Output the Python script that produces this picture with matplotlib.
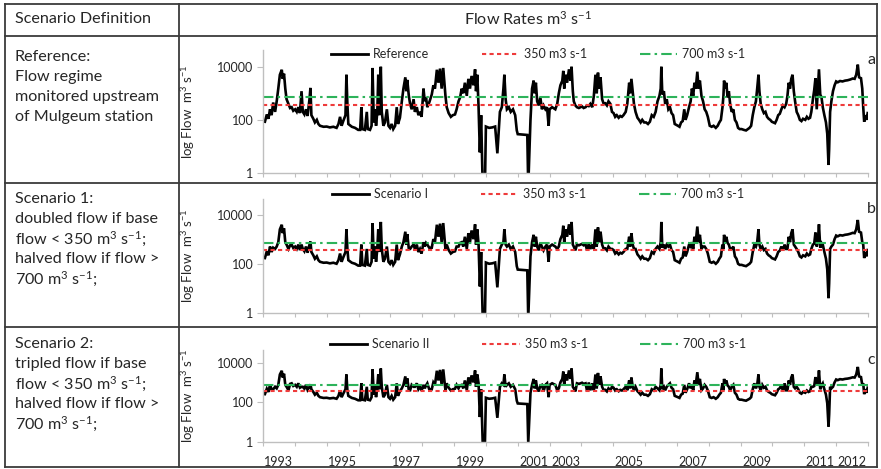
import numpy as np
import matplotlib
matplotlib.use("Agg")
import matplotlib.pyplot as plt
from matplotlib.lines import Line2D
from matplotlib.ticker import FixedLocator, NullFormatter, FixedFormatter, NullLocator

plt.rcParams["font.family"] = ["Lato", "DejaVu Sans"]
plt.rcParams["mathtext.fontset"] = "custom"
plt.rcParams["mathtext.rm"] = "Lato"

# ---------------------------------------------------------------------------
# Observed flow upstream of Mulgeum station (m3 s-1), decimal calendar years
# (no record for 2002)
# ---------------------------------------------------------------------------
flow_date = [
    1993.01, 1993.06, 1993.12, 1993.17, 1993.22, 1993.27, 1993.32, 1993.38, 1993.43, 1993.48,
    1993.53, 1993.59, 1993.62, 1993.66, 1993.70, 1993.74, 1993.80, 1993.85, 1993.90, 1993.95,
    1994.01, 1994.06, 1994.11, 1994.16, 1994.21, 1994.25, 1994.30, 1994.35, 1994.40, 1994.46,
    1994.49, 1994.52, 1994.58, 1994.63, 1994.69, 1994.74, 1994.79, 1994.90,
    1995.00, 1995.10, 1995.21, 1995.31, 1995.37, 1995.42, 1995.47, 1995.52, 1995.59, 1995.62,
    1995.65, 1995.68, 1995.79, 1995.89, 1995.99,
    1996.05, 1996.09, 1996.12, 1996.20, 1996.26, 1996.29, 1996.36, 1996.41, 1996.44, 1996.48,
    1996.52, 1996.55, 1996.59, 1996.62, 1996.65, 1996.70, 1996.73, 1996.78, 1996.83, 1996.89,
    1996.94, 1996.99,
    1997.04, 1997.09, 1997.15, 1997.20, 1997.24, 1997.30, 1997.36, 1997.41, 1997.47, 1997.50,
    1997.53, 1997.58, 1997.62, 1997.67, 1997.73, 1997.77, 1997.83, 1997.88, 1997.93, 1997.98,
    1998.04, 1998.08, 1998.12, 1998.16, 1998.22, 1998.30, 1998.35, 1998.40, 1998.46, 1998.51,
    1998.56, 1998.61, 1998.66, 1998.73, 1998.77, 1998.83, 1998.90, 1998.96,
    1999.03, 1999.08, 1999.14, 1999.19, 1999.24, 1999.29, 1999.34, 1999.40, 1999.45, 1999.50,
    1999.55, 1999.61, 1999.66, 1999.69, 1999.73, 1999.77, 1999.81, 1999.85, 1999.90, 1999.97,
    2000.00, 2000.10, 2000.20, 2000.29, 2000.36, 2000.44, 2000.50, 2000.55, 2000.58, 2000.62,
    2000.66, 2000.72, 2000.78, 2000.85, 2000.92, 2000.97,
    2001.00, 2001.30, 2001.33, 2001.40, 2001.45, 2001.50, 2001.53, 2001.57, 2001.61, 2001.66,
    2001.71, 2001.76, 2001.81, 2001.87, 2001.92, 2001.97,
    2003.00, 2003.08, 2003.18, 2003.24, 2003.29, 2003.34, 2003.40, 2003.43, 2003.46, 2003.50,
    2003.55, 2003.61, 2003.66, 2003.69, 2003.73, 2003.76, 2003.81, 2003.86, 2003.92, 2003.97,
    2004.02, 2004.07, 2004.13, 2004.18, 2004.23, 2004.28, 2004.34, 2004.39, 2004.44, 2004.48,
    2004.52, 2004.56, 2004.60, 2004.65, 2004.70, 2004.75, 2004.80, 2004.85, 2004.91, 2004.96,
    2005.01, 2005.06, 2005.11, 2005.17, 2005.22, 2005.27, 2005.32, 2005.39, 2005.44, 2005.50,
    2005.53, 2005.57, 2005.61, 2005.65, 2005.70, 2005.76, 2005.81, 2005.86, 2005.91, 2005.97,
    2006.03, 2006.09, 2006.15, 2006.21, 2006.27, 2006.33, 2006.39, 2006.45, 2006.49, 2006.51,
    2006.54, 2006.59, 2006.63, 2006.68, 2006.73, 2006.78, 2006.83, 2006.88, 2006.93, 2006.98,
    2007.03, 2007.08, 2007.13, 2007.18, 2007.23, 2007.27, 2007.32, 2007.38, 2007.43, 2007.47,
    2007.51, 2007.55, 2007.59, 2007.64, 2007.68, 2007.72, 2007.77, 2007.82, 2007.87, 2007.92,
    2007.97,
    2008.03, 2008.09, 2008.15, 2008.22, 2008.28, 2008.33, 2008.38, 2008.43, 2008.46, 2008.48,
    2008.52, 2008.55, 2008.59, 2008.63, 2008.67, 2008.72, 2008.77, 2008.82, 2008.87, 2008.92,
    2008.97,
    2009.03, 2009.10, 2009.17, 2009.23, 2009.28, 2009.33, 2009.38, 2009.43, 2009.48, 2009.52,
    2009.56, 2009.59, 2009.63, 2009.68, 2009.73, 2009.78, 2009.83, 2009.88, 2009.93, 2009.98,
    2010.03, 2010.08, 2010.13, 2010.18, 2010.23, 2010.28, 2010.33, 2010.38, 2010.43, 2010.47,
    2010.51, 2010.55, 2010.59, 2010.63, 2010.67, 2010.71, 2010.76, 2010.81, 2010.86, 2010.91,
    2010.96,
    2011.03, 2011.08, 2011.13, 2011.18, 2011.22, 2011.27, 2011.31, 2011.35, 2011.39, 2011.43,
    2011.46, 2011.50, 2011.54, 2011.58, 2011.63, 2011.68, 2011.72, 2011.76, 2011.78, 2011.81,
    2011.85, 2011.90, 2011.95,
    2012.00, 2012.05, 2012.12, 2012.20, 2012.28, 2012.36, 2012.44, 2012.52, 2012.58, 2012.63,
    2012.68, 2012.72, 2012.78, 2012.82, 2012.85, 2012.88, 2012.92, 2012.96, 2012.99,
]

flow_reference = [
    87, 85, 160, 110, 250, 150, 450, 200, 500, 1500,
    5000, 7700, 3500, 5500, 1500, 600, 400, 280, 300, 220,
    250, 200, 300, 180, 1200, 200, 160, 250, 140, 600,
    1600, 150, 110, 80, 100, 70, 60, 55,
    56, 52, 55, 50, 70, 130, 60, 90, 150, 5000,
    400, 70, 55, 50, 42,
    42, 300, 45, 42, 200, 45, 42, 60, 9000, 80,
    250, 60, 200, 5000, 150, 10000, 200, 60, 80, 250,
    60, 50,
    70, 45, 60, 300, 70, 120, 500, 1500, 4000, 1200,
    3200, 800, 400, 250, 600, 200, 300, 150, 200, 130,
    1500, 500, 700, 300, 450, 900, 2000, 1500, 7700, 2500,
    8500, 1500, 9000, 800, 300, 180, 130, 150,
    160, 250, 500, 700, 1500, 1000, 2500, 800, 3500, 1500,
    4500, 2000, 8000, 1200, 5000, 300, 6, 150, 0.3, 0.3,
    56, 50, 52, 56, 5.5, 200, 300, 1500, 5000, 600,
    250, 300, 200, 250, 150, 40,
    29, 27, 0.3, 100, 1500, 3000, 1000, 2500, 500, 350,
    700, 250, 350, 250, 300, 60,
    250, 300, 250, 400, 1000, 2000, 3000, 7000, 1500, 5000,
    2500, 8000, 3000, 10000, 1200, 500, 350, 300, 280, 300,
    320, 280, 300, 350, 330, 400, 300, 800, 5000, 1000,
    6000, 1500, 4000, 600, 400, 420, 350, 500, 400, 200,
    180, 130, 150, 120, 140, 130, 150, 200, 400, 2500,
    1000, 3500, 1200, 400, 200, 120, 100, 80, 100, 80,
    80, 70, 85, 150, 130, 200, 500, 800, 1500, 10000,
    900, 1200, 400, 600, 250, 300, 180, 150, 70, 65,
    60, 55, 80, 90, 250, 100, 150, 300, 500, 1500,
    800, 2500, 1500, 6500, 1500, 3000, 800, 500, 250, 200,
    130,
    60, 55, 60, 50, 60, 80, 100, 300, 800, 3000,
    1500, 2500, 700, 1200, 400, 200, 250, 100, 80, 50,
    45,
    45, 42, 40, 45, 50, 60, 150, 300, 500, 1500,
    5000, 1200, 400, 250, 180, 200, 130, 110, 100, 85,
    80, 75, 100, 150, 170, 250, 350, 300, 400, 800,
    2500, 1500, 3500, 5000, 1200, 500, 200, 150, 100, 90,
    110,
    100, 130, 110, 120, 200, 600, 1300, 3700, 250, 2000,
    8000, 900, 700, 300, 150, 80, 30, 2, 8, 200,
    500, 1200, 2000,
    2800, 2600, 2900, 2800, 3000, 3100, 3300, 3600, 3500, 5000,
    12000, 4000, 3700, 1500, 300, 85, 150, 100, 180,
]

base_threshold = 350.0   # m3 s-1
flood_threshold = 700.0  # m3 s-1

series_labels = ["Reference", "Scenario I", "Scenario II"]
panel_letters = ["a", "b", "c"]
low_flow_factor = [1.0, 2.0, 3.0]   # multiplier for flows below 350 m3 s-1
high_flow_factor = [1.0, 0.5, 0.5]  # multiplier for flows above 700 m3 s-1

year_tick_labels = [1993, 1995, 1997, 1999, 2001, 2003, 2005, 2007, 2009, 2011, 2012]
y_tick_values = [1, 100, 10000]
y_tick_labels = ["1", "100", "10000"]

legend_350 = "350 m3 s-1"
legend_700 = "700 m3 s-1"

# ---------------------------------------------------------------------------
W, H = 881, 469
fig = plt.figure(figsize=(W / 100, H / 100), dpi=100)
fig.patch.set_facecolor("white")


def fx(x):
    return x / W


def fy(y):
    return 1 - y / H


def axis_pos(year):
    """Year position on the category-style time axis (2002 is skipped)."""
    year = np.asarray(year, dtype=float)
    return year - 1993 - (year >= 2002)


# table grid
grid_col = "#3a3a3a"
table_lines = [
    ((5, 877), (4, 4)), ((5, 877), (467, 467)),
    ((5, 5), (4, 467)), ((877, 877), (4, 467)),
    ((179, 179), (4, 467)),
    ((5, 877), (36, 36)), ((5, 877), (183, 183)), ((5, 877), (327, 327)),
]
for (xs, ys) in table_lines:
    fig.add_artist(Line2D([fx(v) for v in xs], [fy(v) for v in ys],
                          transform=fig.transFigure, color=grid_col, lw=1.3,
                          solid_capstyle="projecting"))

txt_col = "#262626"
fs_cell = 11.6
sup3 = r"$\mathregular{^{3}}$"
supm1 = r"$\mathregular{^{-1}}$"
fig.text(fx(15), fy(19), "Scenario Definition", fontsize=fs_cell, color=txt_col, va="center")
fig.text(fx(528), fy(19), "Flow Rates m" + sup3 + " s" + supm1, fontsize=fs_cell,
         color=txt_col, va="center", ha="center")

cell_lines = [
    (57, ["Reference:", "Flow regime", "monitored upstream", "of Mulgeum station"]),
    (199, ["Scenario 1:", "doubled flow if base", "flow < 350 m" + sup3 + " s" + supm1 + ";",
           "halved flow if flow >", "700 m" + sup3 + " s" + supm1 + ";"]),
    (344, ["Scenario 2:", "tripled flow if base", "flow < 350 m" + sup3 + " s" + supm1 + ";",
           "halved flow if flow >", "700 m" + sup3 + " s" + supm1 + ";"]),
]
for y0, lines in cell_lines:
    for i, s in enumerate(lines):
        fig.text(fx(15), fy(y0 + 20 * i), s, fontsize=fs_cell, color=txt_col, va="center")

# panels: (left, top, right, bottom) in pixels
panel_boxes = [(263, 50, 868, 173), (263, 199, 868, 313), (263, 350, 868, 442)]
legend_y = [54, 194, 344]

q = np.asarray(flow_reference, dtype=float)
pos = axis_pos(flow_date)
red = "#EE3B3B"
green = "#2DB35A"
axis_col = "#BFBFBF"

for k, (l, t, r, b) in enumerate(panel_boxes):
    ax = fig.add_axes([fx(l), fy(b), fx(r - l), (b - t) / H])
    series = np.where(q < base_threshold, q * low_flow_factor[k],
                      np.where(q > flood_threshold, q * high_flow_factor[k], q))
    ax.plot(pos, series, color="black", lw=1.9, solid_joinstyle="miter")
    ax.axhline(base_threshold, color=red, lw=1.5, dashes=(2.0, 1.6))
    ax.axhline(flood_threshold, color=green, lw=1.5, dashes=(5.0, 2.0, 1.2, 2.0))
    ax.set_yscale("log")
    ax.set_ylim(1, 10 ** 4.63)
    ax.set_xlim(0, 19)
    ax.yaxis.set_major_locator(FixedLocator(y_tick_values))
    ax.yaxis.set_major_formatter(FixedFormatter(y_tick_labels))
    ax.yaxis.set_minor_locator(NullLocator())
    ax.xaxis.set_major_locator(FixedLocator(np.arange(0, 20)))
    ax.xaxis.set_major_formatter(NullFormatter())
    if k == 2:
        ax.xaxis.set_minor_locator(FixedLocator(axis_pos(year_tick_labels) + 0.5))
        ax.xaxis.set_minor_formatter(FixedFormatter([str(v) for v in year_tick_labels]))
    else:
        ax.xaxis.set_minor_locator(NullLocator())
    ax.tick_params(axis="x", which="major", length=3, color=axis_col, direction="out")
    ax.tick_params(axis="x", which="minor", length=0, pad=10, labelsize=9, labelcolor=txt_col)
    ax.tick_params(axis="y", which="major", length=4, color=axis_col, direction="out",
                   labelsize=9, labelcolor=txt_col, pad=3)
    for side in ("top", "right"):
        ax.spines[side].set_visible(False)
    for side in ("left", "bottom"):
        ax.spines[side].set_color(axis_col)
        ax.spines[side].set_linewidth(1.0)
    ax.set_ylabel("log Flow  m" + sup3 + " s" + supm1, fontsize=9.5, color=txt_col)
    ax.yaxis.set_label_coords(-66 / (r - l), 0.5)
    ax.patch.set_alpha(0)

    handles = [Line2D([], [], color="black", lw=2.0),
               Line2D([], [], color=red, lw=1.5, dashes=(2.0, 1.6)),
               Line2D([], [], color=green, lw=1.5, dashes=(5.0, 2.0, 1.2, 2.0))]
    fig.legend(handles, [series_labels[k], legend_350, legend_700], loc="center",
               bbox_to_anchor=(fx(538), fy(legend_y[k])), bbox_transform=fig.transFigure,
               ncol=3, frameon=False, fontsize=9, handlelength=3.0, handletextpad=0.4,
               columnspacing=4.2, labelcolor=txt_col, borderaxespad=0, borderpad=0)
    fig.text(fx(871), fy(t + 10), panel_letters[k], fontsize=11.5, color=txt_col,
             ha="center", va="center")

fig.savefig("out.png", dpi=100, facecolor="white")
